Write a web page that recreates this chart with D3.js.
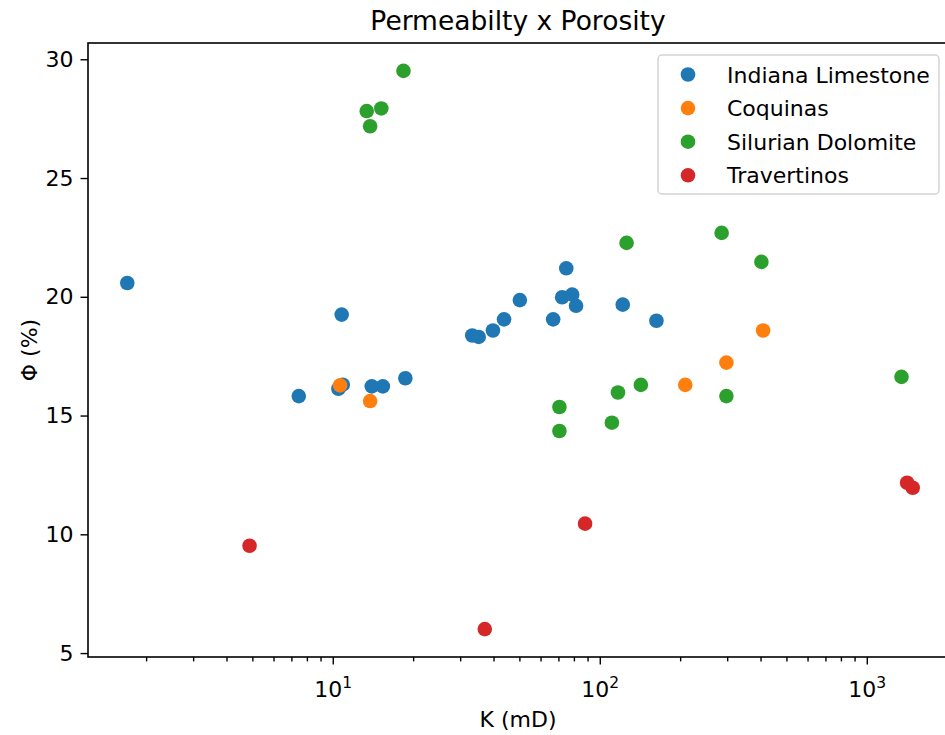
<!DOCTYPE html>
<html>
<head>
<meta charset="utf-8">
<script src="https://cdn.jsdelivr.net/npm/d3@7"></script>
<style>
  body { margin: 0; background: #fff; }
  text { font-family: "DejaVu Sans", sans-serif; fill: #000; }
</style>
</head>
<body>
<div id="chart"></div>
<script>

// data
var seriesNames = ["Indiana Limestone", "Coquinas", "Silurian Dolomite", "Travertinos"];
var seriesColors = ["#1f77b4", "#ff7f0e", "#2ca02c", "#d62728"];

var limestoneK   = [1.70, 10.8, 7.46, 10.5, 10.9, 14.0, 15.4, 18.7, 33.3, 35.2, 39.8, 43.8, 50.2, 66.9, 74.9, 72.3, 78.8, 81.5, 121.9, 163];
var limestonePhi = [20.58, 19.25, 15.82, 16.13, 16.3, 16.23, 16.23, 16.57, 18.37, 18.31, 18.58, 19.05, 19.86, 19.05, 21.2, 19.98, 20.09, 19.62, 19.67, 18.99];

var coquinasK   = [10.65, 13.8, 209, 298, 409];
var coquinasPhi = [16.27, 15.61, 16.29, 17.23, 18.58];

var dolomiteK   = [18.4, 13.4, 15.2, 13.8, 126, 286, 403, 70.6, 70.6, 111, 117, 142.5, 298, 1349];
var dolomitePhi = [29.51, 27.82, 27.93, 27.18, 22.27, 22.69, 21.47, 15.36, 14.35, 14.70, 15.97, 16.29, 15.82, 16.63];

var travertinosK   = [4.88, 37.1, 88.1, 1416, 1486];
var travertinosPhi = [9.52, 6.01, 10.45, 12.17, 11.96];

var yTicks = [5, 10, 15, 20, 25, 30];
var xMajorTicks = [10, 100, 1000];

var allK = [limestoneK, coquinasK, dolomiteK, travertinosK];
var allPhi = [limestonePhi, coquinasPhi, dolomitePhi, travertinosPhi];

var svgWidth = 945;
var svgHeight = 735;

var margin = { top: 43, left: 88 };
var width = 864;
var height = 614;

var fontSize = 22;

var svg = d3.select("#chart")
  .append("svg")
  .attr("width", svgWidth)
  .attr("height", svgHeight);

// matplotlib style 5% padding (log space on x)
var kExt = d3.extent(d3.merge(allK));
var pExt = d3.extent(d3.merge(allPhi));
var lk0 = Math.log10(kExt[0]), lk1 = Math.log10(kExt[1]);
var padK = (lk1 - lk0) * 0.05;
var padP = (pExt[1] - pExt[0]) * 0.05;

var xScale = d3.scaleLog()
  .domain([Math.pow(10, lk0 - padK), Math.pow(10, lk1 + padK)])
  .range([0, width]);

var yScale = d3.scaleLinear()
  .domain([pExt[0] - padP, pExt[1] + padP])
  .range([height, 0]);

var chartGroup = svg.append("g")
  .attr("transform", `translate(${margin.left}, ${margin.top})`);

// minor ticks
var xDom = xScale.domain();
var xMinorTicks = [];
for (var e = 0; e <= 3; e++) {
  for (var m = 2; m <= 9; m++) {
    var v = m * Math.pow(10, e);
    if (v >= xDom[0] && v <= xDom[1]) xMinorTicks.push(v);
  }
}

var minorAxis = d3.axisBottom(xScale)
  .tickValues(xMinorTicks)
  .tickSize(4.4)
  .tickFormat("");

var xAxis = chartGroup.append("g")
  .attr("transform", `translate(0, ${height})`)
  .call(minorAxis);

var majorAxis = d3.axisBottom(xScale)
  .tickValues(xMajorTicks)
  .tickSize(7.5)
  .tickFormat("");

var xAxisMajor = chartGroup.append("g")
  .attr("transform", `translate(0, ${height})`)
  .call(majorAxis);

[xAxis, xAxisMajor].forEach(function(ax) {
  ax.select(".domain").remove();
  ax.selectAll("line").attr("stroke", "#000").attr("stroke-width", 1.4);
});

// 10^n labels
var xLabels = xAxisMajor.selectAll(".tick")
  .append("text")
  .attr("y", 40)
  .attr("text-anchor", "middle")
  .attr("font-size", fontSize + "px");
xLabels.append("tspan").text("10");
xLabels.append("tspan")
  .attr("dy", -9)
  .attr("font-size", "15.5px")
  .text(d => Math.round(Math.log10(d)));

var leftAxis = d3.axisLeft(yScale)
  .tickValues(yTicks)
  .tickSize(7.5)
  .tickPadding(7);

var yAxis = chartGroup.append("g")
  .call(leftAxis);

yAxis.select(".domain").remove();
yAxis.selectAll("line").attr("stroke", "#000").attr("stroke-width", 1.4);
yAxis.selectAll("text")
  .attr("font-family", "DejaVu Sans")
  .attr("font-size", fontSize + "px")
  .attr("fill", "#000");

// points
seriesNames.forEach(function(name, i) {
  var pts = allK[i].map((k, j) => ({ k: k, phi: allPhi[i][j] }));
  chartGroup.append("g")
    .selectAll("circle")
    .data(pts)
    .enter()
    .append("circle")
    .attr("cx", d => xScale(d.k))
    .attr("cy", d => yScale(d.phi))
    .attr("r", 7.3)
    .attr("fill", seriesColors[i]);
});

// spines
chartGroup.append("rect")
  .attr("x", 0)
  .attr("y", 0)
  .attr("width", width)
  .attr("height", height)
  .attr("fill", "none")
  .attr("stroke", "#000")
  .attr("stroke-width", 1.6);

// legend
var legend = svg.append("g")
  .attr("transform", "translate(658, 55)");

legend.append("rect")
  .attr("width", 281)
  .attr("height", 139)
  .attr("rx", 4)
  .attr("fill", "#fff")
  .attr("fill-opacity", 0.8)
  .attr("stroke", "#d3d3d3")
  .attr("stroke-width", 1.5);

var rows = legend.selectAll(".row")
  .data(seriesNames)
  .enter()
  .append("g")
  .attr("transform", (d, i) => `translate(0, ${19.5 + i * 33.6})`);

rows.append("circle")
  .attr("cx", 30)
  .attr("cy", 0)
  .attr("r", 7.3)
  .attr("fill", (d, i) => seriesColors[i]);

rows.append("text")
  .attr("x", 69)
  .attr("y", 8)
  .attr("font-size", fontSize + "px")
  .text(d => d);

// titles
svg.append("text")
  .attr("x", margin.left + 430)
  .attr("y", 30)
  .attr("text-anchor", "middle")
  .attr("font-size", "26.5px")
  .text("Permeabilty x Porosity");

svg.append("text")
  .attr("x", margin.left + 430)
  .attr("y", 727)
  .attr("text-anchor", "middle")
  .attr("font-size", fontSize + "px")
  .text("K (mD)");

svg.append("text")
  .attr("transform", `translate(37, ${margin.top + height / 2}) rotate(-90)`)
  .attr("text-anchor", "middle")
  .attr("font-size", fontSize + "px")
  .text("Φ (%)");

</script>
</body>
</html>
